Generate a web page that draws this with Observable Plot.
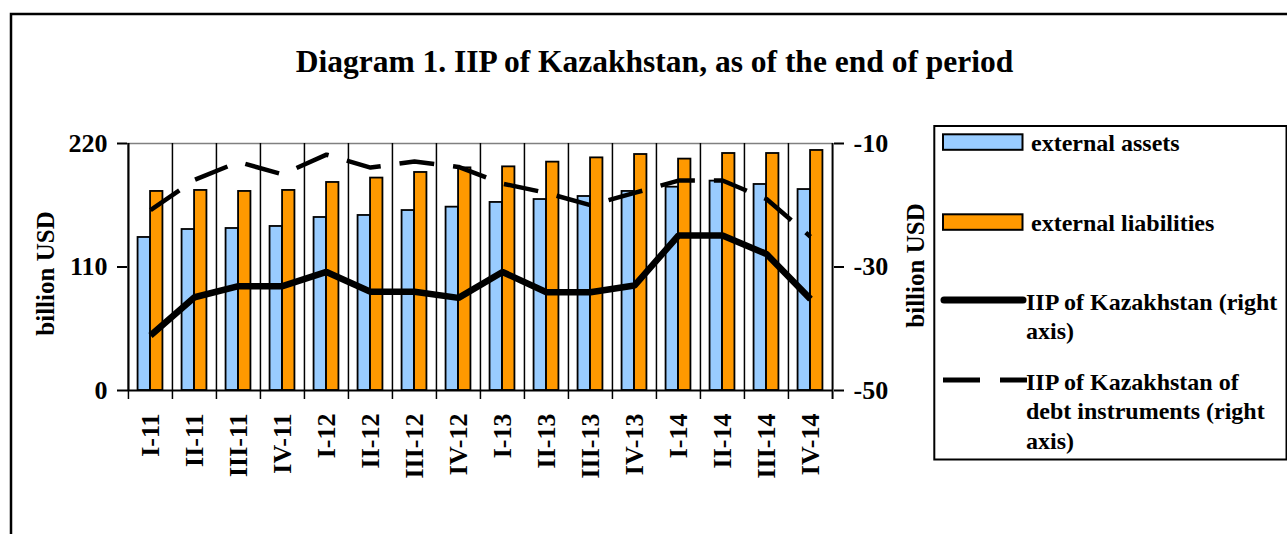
<!DOCTYPE html>
<html><head><meta charset="utf-8">
<script src="https://cdn.jsdelivr.net/npm/d3@7"></script>
<script src="https://cdn.jsdelivr.net/npm/@observablehq/plot@0.6"></script>
<style>
html,body{margin:0;padding:0;background:#fff;overflow:hidden;}
#wrap{position:relative;width:1287px;height:534px;overflow:hidden;background:#fff;}
#wrap svg{position:absolute;left:0;top:0;}
</style></head><body><div id="wrap"></div>
<script>
const categories = ["I-11","II-11","III-11","IV-11","I-12","II-12","III-12","IV-12","I-13","II-13","III-13","IV-13","I-14","II-14","III-14","IV-14"];
const assets = [136.3,143.4,144.3,146.1,154.1,155.9,160.3,163.3,167.5,170.1,172.8,177.3,181.1,186.5,183.5,179.0];
const liabilities = [177.3,178.2,177.3,178.2,185.3,189.2,194.2,198.3,199.2,203.4,207.2,210.2,206.1,211.1,211.1,213.8];
const iip = [-41.1,-34.9,-33.1,-33.1,-30.8,-34.0,-34.0,-35.0,-30.8,-34.1,-34.1,-33.0,-24.9,-24.9,-27.9,-35.2];
const iipDebt = [-20.8,-15.9,-13.0,-15.0,-11.8,-13.9,-12.9,-13.8,-16.5,-18.0,-20.0,-18.0,-16.0,-16.0,-19.0,-25.1];
const leftTicks = [0,110,220];
const rightTicks = [-50,-30,-10];
const titleText = "Diagram 1. IIP of Kazakhstan, as of the end of period";
const yLabel = "billion USD";
const legendLines = [
  ["external assets"],
  ["external liabilities"],
  ["IIP of Kazakhstan (right","axis)"],
  ["IIP of Kazakhstan of","debt instruments (right","axis)"]
];

const W = 1287, H = 534;
const frameL = 127, frameR = 833, frameT = 143, frameB = 390;
const leftMin = leftTicks[0], leftMax = leftTicks[leftTicks.length-1];
const rightMin = rightTicks[0], rightMax = rightTicks[rightTicks.length-1];
const toLeft = v => leftMin + (v - rightMin) / (rightMax - rightMin) * (leftMax - leftMin);
const toRight = v => rightMin + (v - leftMin) / (leftMax - leftMin) * (rightMax - rightMin);

const rows = categories.map((c, i) => ({cat: c, assets: assets[i], liabilities: liabilities[i], iip: toLeft(iip[i]), debt: toLeft(iipDebt[i])}));
const step = (frameR - frameL) / categories.length;
const half = step / 2, barW = 12.5;
const font = "'Liberation Serif','Times New Roman',serif";

const plot = Plot.plot({
  width: W, height: H,
  marginLeft: frameL, marginRight: W - frameR, marginTop: frameT, marginBottom: H - frameB,
  style: {background: "transparent", fontFamily: font, fontWeight: "bold", fontSize: "26px", color: "#000", overflow: "visible", maxWidth: "none"},
  x: {type: "band", domain: categories, padding: 0},
  y: {domain: [leftMin, leftMax]},
  marks: [
    Plot.ruleY([leftMax], {stroke: "#808080", strokeWidth: 1.5}),
    Plot.ruleX(categories, {x: d => d, y1: leftMax, y2: leftMin, dx: -half, stroke: "#000", strokeWidth: 1.5, insetBottom: -9}),
    Plot.ruleX([categories[categories.length-1]], {x: d => d, y1: leftMax, y2: leftMin, dx: half, stroke: "#000", strokeWidth: 2, insetBottom: -9}),
    Plot.barY(rows, {x: "cat", y: "assets", fill: "#99ccff", stroke: "#000", strokeWidth: 1.8, insetLeft: half - barW, insetRight: half}),
    Plot.barY(rows, {x: "cat", y: "liabilities", fill: "#ff9900", stroke: "#000", strokeWidth: 1.8, insetLeft: half, insetRight: half - barW}),
    Plot.ruleY([leftMin], {stroke: "#000", strokeWidth: 2}),
    Plot.ruleX([categories[0]], {x: d => d, y1: leftMax, y2: leftMin, dx: -half, stroke: "#000", strokeWidth: 2}),
    Plot.line(rows, {x: "cat", y: "debt", stroke: "#000", strokeWidth: 4.5, strokeDasharray: "35,19", strokeLinecap: "butt", strokeLinejoin: "miter"}),
    Plot.line(rows, {x: "cat", y: "iip", stroke: "#000", strokeWidth: 6.5, strokeLinejoin: "miter", strokeLinecap: "butt"}),
    Plot.axisY({anchor: "left", ticks: leftTicks, tickSize: 10, tickPadding: 10, label: null, strokeWidth: 2}),
    Plot.axisY({anchor: "right", ticks: rightTicks.map(toLeft), tickFormat: v => String(Math.round(toRight(v))), tickSize: 10, tickPadding: 10, label: null, strokeWidth: 2}),
    Plot.axisX({tickSize: 0, tickPadding: 23, tickRotate: -90, label: null}),
    Plot.text([yLabel], {frameAnchor: "left", textAnchor: "middle", rotate: -90, dx: -82, dy: 6.5, fontSize: 25}),
    Plot.text([yLabel], {frameAnchor: "right", textAnchor: "middle", rotate: -90, dx: 82, dy: -1.5, fontSize: 25})
  ]
});

const wrap = document.getElementById("wrap");
wrap.appendChild(plot);

// overlay: outer frame, title, legend
const ov = d3.create("svg").attr("width", W).attr("height", H)
  .style("font-family", font).style("font-weight", "bold").style("pointer-events", "none");
ov.append("rect").attr("x", 11).attr("y", 14).attr("width", 1400).attr("height", 800)
  .attr("fill", "none").attr("stroke", "#000").attr("stroke-width", 2.5);
ov.append("text").attr("x", 654.5).attr("y", 72).attr("text-anchor", "middle").attr("font-size", 31.5).text(titleText);

const lg = ov.append("g");
lg.append("rect").attr("x", 934.3).attr("y", 126).attr("width", 352.2).attr("height", 333.5)
  .attr("fill", "none").attr("stroke", "#000").attr("stroke-width", 2);
// swatches
lg.append("rect").attr("x", 943).attr("y", 134.3).attr("width", 79.5).attr("height", 15.5)
  .attr("fill", "#99ccff").attr("stroke", "#000").attr("stroke-width", 2);
lg.append("rect").attr("x", 943).attr("y", 214.3).attr("width", 79.5).attr("height", 15.5)
  .attr("fill", "#ff9900").attr("stroke", "#000").attr("stroke-width", 2);
lg.append("line").attr("x1", 944).attr("x2", 1023).attr("y1", 300).attr("y2", 300)
  .attr("stroke", "#000").attr("stroke-width", 7).attr("stroke-linecap", "round");
lg.append("line").attr("x1", 943).attr("x2", 1027).attr("y1", 380).attr("y2", 380)
  .attr("stroke", "#000").attr("stroke-width", 5).attr("stroke-dasharray", "37,20");
const textX = [1031, 1031, 1026, 1026];
const textY = [151, 231, 309.5, 389.5];
const lineGap = 29.5;
legendLines.forEach((lines, i) => {
  const t = lg.append("text").attr("font-size", 24).attr("x", textX[i]).attr("y", textY[i]);
  lines.forEach((s, j) => t.append("tspan").attr("x", textX[i]).attr("y", textY[i] + j * lineGap).text(s));
});
wrap.appendChild(ov.node());
</script>
</body></html>
